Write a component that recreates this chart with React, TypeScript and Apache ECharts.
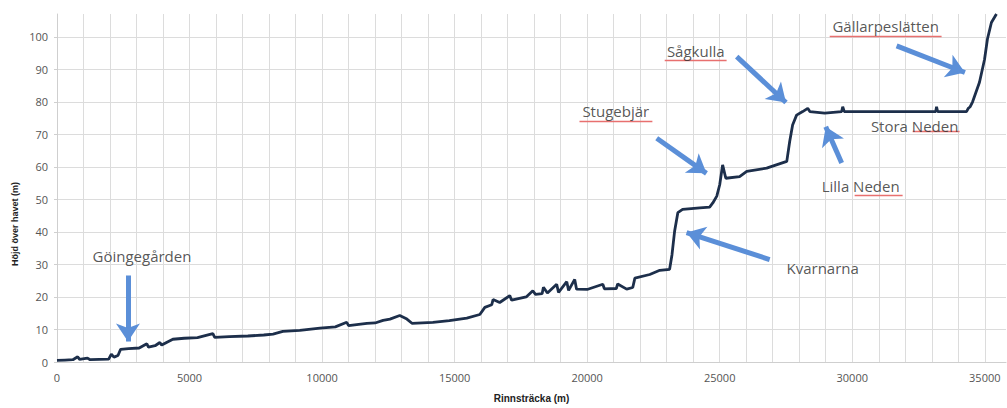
import React, { useEffect, useRef } from "react";
import * as echarts from "echarts";

// River profile: distance along the stream (m) and height above sea level (m)
const distanceM = [
  0, 300, 600, 780, 850, 1150, 1250, 1600, 1950, 2050, 2150, 2300, 2400, 2700, 3100, 3390, 3450, 3700,
  3880, 3950, 4150, 4370, 4800, 5300, 5880, 5950, 6500, 7200, 7800, 8150, 8520, 9160, 9920, 10500,
  10930, 11000, 11690, 12000, 12300, 12560, 12930, 13200, 13390, 14180, 14800, 15460, 15950, 16140,
  16400, 16450, 16700, 17080, 17150, 17700, 17950, 18050, 18300, 18350, 18500, 18850, 18920, 19230,
  19300, 19530, 19600, 20000, 20590, 20650, 21100, 21150, 21490, 21720, 21800, 22360, 22740, 23110,
  23200, 23300, 23420, 23600, 24250, 24620, 24740, 24890, 25000, 25110, 25230, 25750, 26020, 26770,
  27530, 27640, 27750, 27900, 28130, 28320, 28400, 28960, 29600, 29640, 29700, 31000, 33150, 33180,
  33220, 34310, 34380, 34450, 34540, 34800, 34990, 35100, 35250, 35440,
];
const elevationM = [
  0.5, 0.6, 0.7, 1.6, 0.8, 1.2, 0.7, 0.8, 0.9, 2.4, 1.5, 2.0, 3.9, 4.1, 4.3, 5.6, 4.6, 5.0,
  6.0, 5.2, 6.1, 7.0, 7.3, 7.5, 8.7, 7.6, 7.8, 8.0, 8.3, 8.6, 9.4, 9.7, 10.4, 10.8,
  12.2, 11.2, 11.9, 12.0, 12.8, 13.2, 14.3, 13.2, 11.9, 12.2, 12.7, 13.5, 14.6, 16.8,
  17.6, 19.2, 18.3, 20.4, 19.0, 20.0, 21.9, 20.8, 21.0, 23.0, 21.2, 23.9, 21.4, 24.7,
  22.0, 25.4, 22.4, 22.3, 23.9, 22.5, 22.6, 24.0, 22.4, 22.9, 25.8, 26.9, 28.2, 28.5,
  33.0, 40.3, 45.9, 46.9, 47.4, 47.6, 48.9, 51.0, 54.5, 60.6, 56.5, 57.0, 58.6, 59.6,
  61.7, 67.8, 72.9, 75.9, 77.0, 78.0, 77.0, 76.5, 77.0, 78.5, 77.0, 77.0, 77.0, 78.5,
  77.0, 77.0, 78.0, 78.5, 80.0, 86.0, 93.0, 99.3, 104.4, 107.0,
];

// Axis ranges
const xMin = 0;
const xMax = 35800;
const xMinorStep = 1000;
const xLabelStep = 5000;
const yMin = 0;
const yMax = 107;
const yStep = 10;

// Annotations (data coordinates)
const placeNames = ["Göingegården", "Kvarnarna", "Stugebjär", "Sågkulla", "Gällarpeslätten", "Stora Neden", "Lilla Neden"];
const placeX = [3205, 28884, 21079, 24095, 31259, 32353, 30317];
const placeY = [32.7, 29.0, 77.1, 95.7, 103.4, 72.5, 54.1];

const arrowFrom: number[][] = [
  [2677, 26.6],
  [26885, 31.5],
  [22624, 68.8],
  [25641, 93.9],
  [31674, 97.2],
  [29600, 61.2],
];
const arrowTo: number[][] = [
  [2677, 6.3],
  [23750, 39.8],
  [24500, 58.0],
  [27500, 79.8],
  [34250, 89.0],
  [29000, 72.3],
];

// Spell-check style underlines: [x start, x end, y]
const underlines: number[][] = [
  [19710, 22460, 74.0],
  [22925, 25260, 92.7],
  [29150, 33370, 100.3],
  [32280, 34050, 71.0],
  [30090, 31900, 51.4],
];

export default function App() {
  const ref = useRef<HTMLDivElement>(null);

  useEffect(() => {
    if (!ref.current) return;
    const chart = echarts.init(ref.current, undefined, { renderer: "svg" });
    const lineData = distanceM.map((d, i) => [d, elevationM[i]]);
    const gridColor = "#dcdcdc";
    const labelFont = "'Open Sans', 'Liberation Sans', sans-serif";

    const arrowLines = arrowFrom.map((f, i) => [
      { coord: f },
      { coord: arrowTo[i] },
    ]);
    const underlineLines = underlines.map((u) => [
      { coord: [u[0], u[2]] },
      { coord: [u[1], u[2]] },
    ]);

    chart.setOption({
      animation: false,
      backgroundColor: "#ffffff",
      grid: { left: 57, right: 1, top: 14, bottom: 43 },
      xAxis: {
        type: "value",
        min: xMin,
        max: xMax,
        interval: xMinorStep,
        name: "Rinnsträcka (m)",
        nameLocation: "middle",
        nameGap: 31,
        nameTextStyle: { fontFamily: "'Liberation Sans', sans-serif", fontWeight: "bold", fontSize: 10, color: "#222" },
        axisLine: { show: true, lineStyle: { color: "#cfcfcf", width: 1 } },
        axisTick: { show: false },
        axisLabel: {
          color: "#555",
          fontSize: 11,
          fontFamily: labelFont,
          margin: 10,
          showMaxLabel: false,
          formatter: (v: number) => (v % xLabelStep === 0 ? String(v) : ""),
        },
        splitLine: { show: true, showMaxLine: false, lineStyle: { color: gridColor, width: 1 } },
      },
      yAxis: {
        type: "value",
        min: yMin,
        max: yMax,
        interval: yStep,
        axisLine: { show: true, lineStyle: { color: "#cfcfcf", width: 1 } },
        axisTick: { show: true, length: 3, lineStyle: { color: "#cfcfcf" } },
        axisLabel: {
          color: "#555",
          fontSize: 11,
          fontFamily: labelFont,
          margin: 9,
          showMaxLabel: false,
        },
        splitLine: { show: true, showMaxLine: false, lineStyle: { color: gridColor, width: 1 } },
      },
      graphic: [
        {
          type: "text",
          x: 15,
          y: 224,
          rotation: Math.PI / 2,
          style: {
            text: "Höjd över havet (m)",
            fill: "#222",
            font: "bold 9px 'Liberation Sans', sans-serif",
            align: "center",
            verticalAlign: "middle",
          },
        },
      ],
      series: [
        {
          type: "line",
          data: lineData,
          showSymbol: false,
          symbol: "none",
          lineStyle: { color: "#1d2f4b", width: 2.8 },
          silent: true,
          z: 3,
          markLine: {
            silent: true,
            symbol: ["none", "arrow"],
            symbolSize: 18,
            label: { show: false },
            lineStyle: { color: "#5b8fd8", width: 5, type: "solid" },
            emphasis: { disabled: true },
            data: arrowLines,
          },
        },
        {
          type: "line",
          data: [],
          silent: true,
          markLine: {
            silent: true,
            symbol: ["none", "none"],
            label: { show: false },
            lineStyle: { color: "#e8706f", width: 1.4, type: "solid" },
            emphasis: { disabled: true },
            data: underlineLines,
          },
        },
        {
          type: "scatter",
          silent: true,
          symbolSize: 0,
          data: placeNames.map((n, i) => [placeX[i], placeY[i], n]),
          label: {
            show: true,
            position: "inside",
            formatter: (p: any) => p.value[2],
            color: "#2b2b2b",
            fontSize: 15,
            fontFamily: labelFont,
          },
          z: 5,
        },
      ],
    });

    return () => chart.dispose();
  }, []);

  return (
    <div
      ref={ref}
      style={{ position: "absolute", left: 0, top: 0, width: 1007, height: 408 }}
    />
  );
}
